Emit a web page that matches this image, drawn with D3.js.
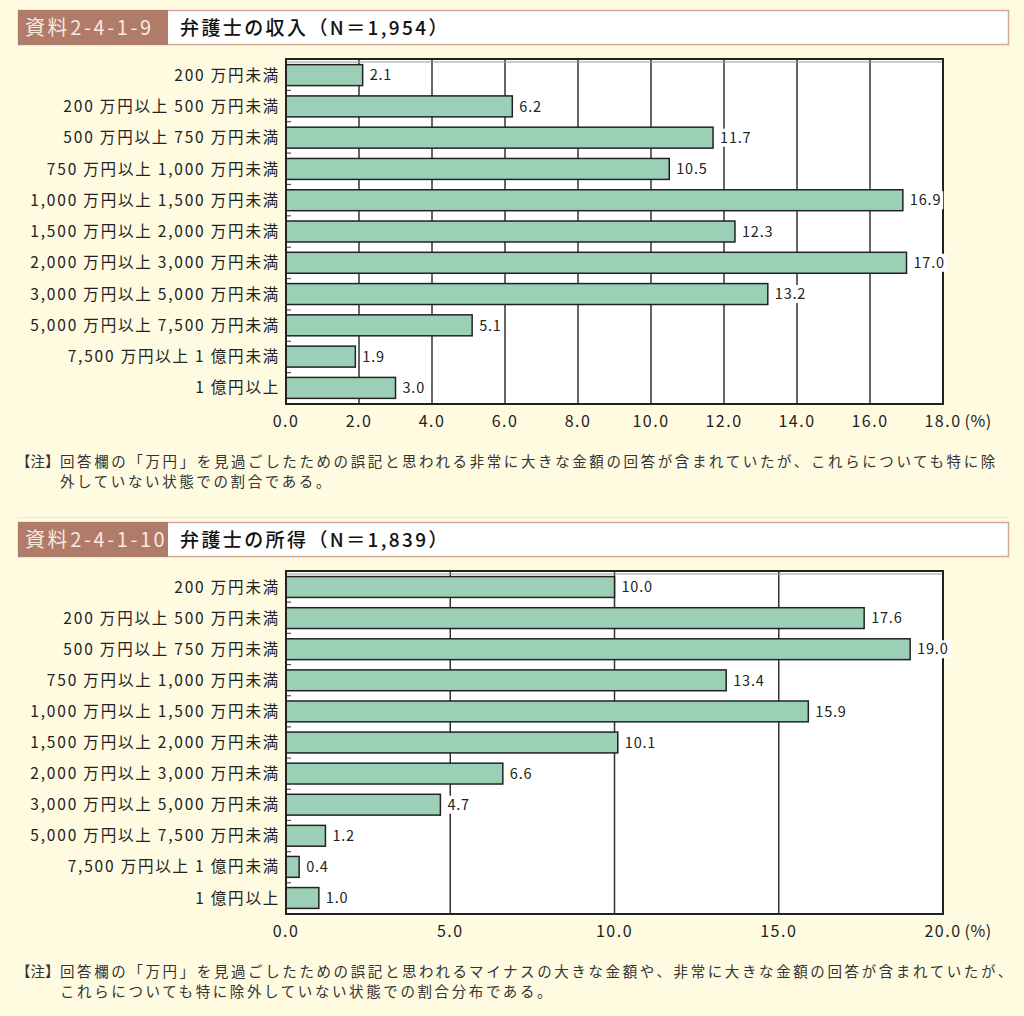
<!DOCTYPE html>
<html>
<head>
<meta charset="utf-8">
<script src="https://cdn.jsdelivr.net/npm/d3@7"></script>
<style>
  body { margin: 0; background: #fffbe1; }
  svg { display: block; font-family: "Noto Sans CJK JP", "Noto Sans", sans-serif; }
</style>
</head>
<body>
<svg id="chart" width="1024" height="1016"></svg>
<script>
// --- data ---
const categories = [
  '200 万円未満',
  '200 万円以上 500 万円未満',
  '500 万円以上 750 万円未満',
  '750 万円以上 1,000 万円未満',
  '1,000 万円以上 1,500 万円未満',
  '1,500 万円以上 2,000 万円未満',
  '2,000 万円以上 3,000 万円未満',
  '3,000 万円以上 5,000 万円未満',
  '5,000 万円以上 7,500 万円未満',
  '7,500 万円以上 1 億円未満',
  '1 億円以上'
];
const revenueValues = [2.1, 6.2, 11.7, 10.5, 16.9, 12.3, 17.0, 13.2, 5.1, 1.9, 3.0];
const incomeValues = [10.0, 17.6, 19.0, 13.4, 15.9, 10.1, 6.6, 4.7, 1.2, 0.4, 1.0];
const revenueTicks = [0, 2, 4, 6, 8, 10, 12, 14, 16, 18];
const incomeTicks = [0, 5, 10, 15, 20];

const charts = [
  {
    tag: '資料2-4-1-9', title: '弁護士の収入（N＝1,954）',
    values: revenueValues, ticks: revenueTicks, max: 18,
    note: ['回答欄の「万円」を見過ごしたための誤記と思われる非常に大きな金額の回答が含まれていたが、これらについても特に除',
           '外していない状態での割合である。'],
    top: 10, plotTop: 59, plotBottom: 404
  },
  {
    tag: '資料2-4-1-10', title: '弁護士の所得（N＝1,839）',
    values: incomeValues, ticks: incomeTicks, max: 20,
    note: ['回答欄の「万円」を見過ごしたための誤記と思われるマイナスの大きな金額や、非常に大きな金額の回答が含まれていたが、',
           'これらについても特に除外していない状態での割合分布である。'],
    top: 522, plotTop: 571, plotBottom: 914
  }
];

const svg = d3.select('#chart');
const left = 286, right = 943;
const noteLeft = 60;

// faint separator between the two panels
svg.append('line')
  .attr('x1', 18).attr('x2', 1008).attr('y1', 517.5).attr('y2', 517.5)
  .attr('stroke', '#eee8cc').attr('stroke-width', 1);

charts.forEach(c => {
  const g = svg.append('g');

  // --- title band ---
  g.append('rect')
    .attr('x', 18.5).attr('y', c.top + 0.5).attr('width', 990).attr('height', 34)
    .attr('fill', '#fff').attr('stroke', '#d4a897').attr('stroke-width', 1.5);
  g.append('rect')
    .attr('x', 18).attr('y', c.top).attr('width', 150).attr('height', 35)
    .attr('fill', '#b07b68');
  g.append('text')
    .attr('x', 25).attr('y', c.top + 25)
    .attr('fill', '#f6e9e2').attr('font-size', 20).attr('letter-spacing', 2.6)
    .text(c.tag);
  g.append('text')
    .attr('x', 180).attr('y', c.top + 25)
    .attr('fill', '#111').attr('font-size', 19).attr('font-weight', 500).attr('letter-spacing', 2.4)
    .text(c.title);

  // --- scales ---
  const x = d3.scaleLinear().domain([0, c.max]).range([left, right]);
  const y = d3.scaleBand().domain(categories).range([c.plotTop, c.plotBottom]).paddingInner(0.33).paddingOuter(0.18);

  // plot background
  g.append('rect')
    .attr('x', left).attr('y', c.plotTop)
    .attr('width', right - left).attr('height', c.plotBottom - c.plotTop)
    .attr('fill', '#fff');

  // vertical gridlines
  g.append('g').selectAll('line').data(c.ticks.slice(1, -1)).join('line')
    .attr('x1', d => x(d)).attr('x2', d => x(d))
    .attr('y1', c.plotTop).attr('y2', c.plotBottom)
    .attr('stroke', '#333').attr('stroke-width', 1.5);

  // thin grey line under the top border
  g.append('line')
    .attr('x1', left).attr('x2', right).attr('y1', c.plotTop + 3).attr('y2', c.plotTop + 3)
    .attr('stroke', '#999').attr('stroke-width', 1);

  // small inward ticks between rows on the left axis
  const rowH = (c.plotBottom - c.plotTop) / categories.length;
  g.append('g').selectAll('line').data(d3.range(1, categories.length)).join('line')
    .attr('x1', left).attr('x2', left + 5)
    .attr('y1', i => c.plotTop + i * rowH)
    .attr('y2', i => c.plotTop + i * rowH)
    .attr('stroke', '#555').attr('stroke-width', 1.2);

  // bars
  g.append('g').selectAll('rect').data(c.values).join('rect')
    .attr('x', x(0))
    .attr('y', (d, i) => y(categories[i]))
    .attr('width', d => x(d) - x(0))
    .attr('height', y.bandwidth())
    .attr('fill', '#9bd0b7').attr('stroke', '#222').attr('stroke-width', 1.5);

  // frame
  g.append('rect')
    .attr('x', left).attr('y', c.plotTop)
    .attr('width', right - left).attr('height', c.plotBottom - c.plotTop)
    .attr('fill', 'none').attr('stroke', '#222').attr('stroke-width', 2);

  // value labels with white backing (drawn over the frame)
  const lbl = g.append('g').selectAll('g').data(c.values).join('g')
    .attr('transform', (d, i) => `translate(${x(d) + 5},${y(categories[i]) + y.bandwidth() / 2})`);
  const bg = lbl.append('rect').attr('y', -9).attr('height', 18).attr('fill', '#fff');
  lbl.append('text')
    .attr('x', 2).attr('dy', '0.36em')
    .attr('font-size', 14.5).attr('letter-spacing', 0.8).attr('fill', '#222')
    .text(d => d.toFixed(1))
    .each(function(d, i) {
      const w = this.getComputedTextLength();
      d3.select(bg.nodes()[i]).attr('x', 0).attr('width', w + 4);
    });

  // category labels
  g.append('g').selectAll('text').data(categories).join('text')
    .attr('x', left - 6)
    .attr('y', d => y(d) + y.bandwidth() / 2)
    .attr('dy', '0.36em').attr('text-anchor', 'end')
    .attr('font-size', 15.5).attr('letter-spacing', 1.8).attr('fill', '#222')
    .text(d => d);

  // x tick labels
  const tl = g.append('g').selectAll('text').data(c.ticks).join('text')
    .attr('x', d => x(d))
    .attr('y', c.plotBottom + 23)
    .attr('text-anchor', 'middle')
    .attr('font-size', 16).attr('letter-spacing', 1.5).attr('fill', '#222')
    .text(d => d.toFixed(1));
  const lastTick = tl.nodes()[c.ticks.length - 1];
  const half = lastTick.getComputedTextLength() / 2;
  g.append('text')
    .attr('x', x(c.max) + half + 3)
    .attr('y', c.plotBottom + 23)
    .attr('font-size', 16).attr('letter-spacing', 0.5).attr('fill', '#222')
    .text('(%)');

  // note
  const ny = c.plotBottom + 63;
  g.append('text')
    .attr('x', 16).attr('y', ny)
    .attr('font-size', 14.5).attr('fill', '#333')
    .text('【注】');
  g.append('g').selectAll('text').data(c.note).join('text')
    .attr('x', noteLeft).attr('y', (d, i) => ny + i * 20)
    .attr('font-size', 14.5).attr('letter-spacing', 2.6).attr('fill', '#333')
    .text(d => d);
});
</script>
</body>
</html>
